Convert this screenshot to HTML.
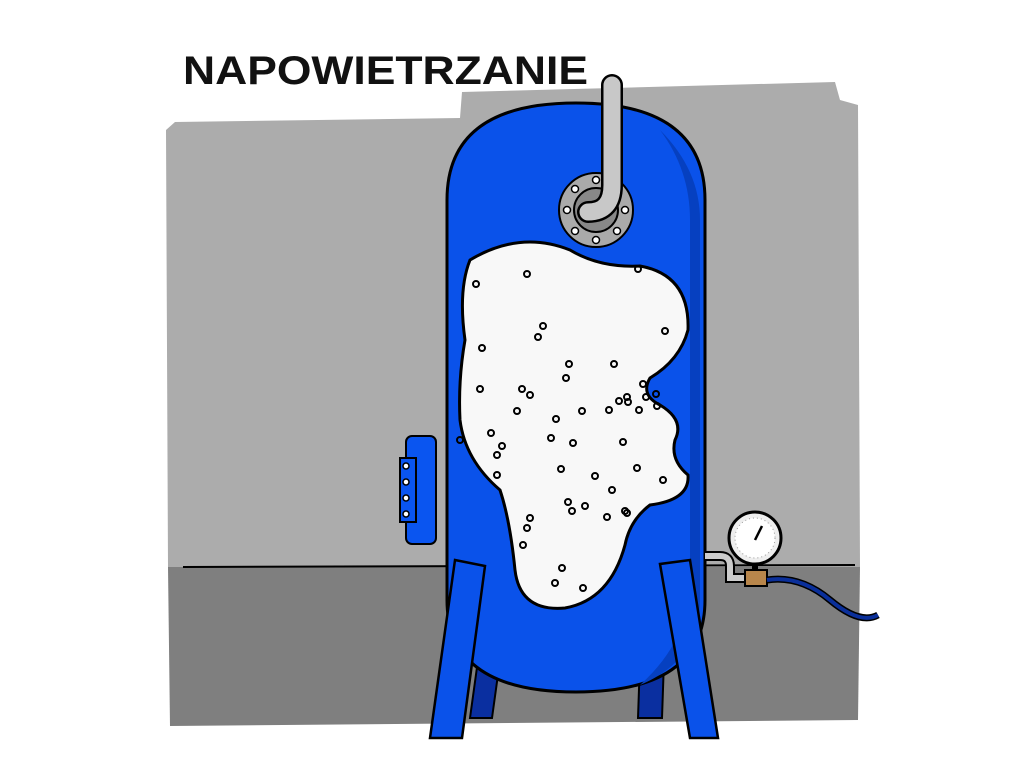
<!DOCTYPE html>
<html><head><meta charset="utf-8"><style>
html,body{margin:0;padding:0;background:#fff;width:1024px;height:768px;overflow:hidden}
</style></head><body>
<svg width="1024" height="768" viewBox="0 0 1024 768">
<path d="M166 130 L175 122 L460 118 L462 92 L835 82 L840 100 L858 105 L860 567 L168 567 Z" fill="#acacac"/>
<path d="M168 567 L860 567 L858 720 L170 726 Z" fill="#7f7f7f"/>
<line x1="183" y1="567" x2="855" y2="565" stroke="#000" stroke-width="2"/>
<text x="183" y="84" font-family="Liberation Sans, sans-serif" font-size="40" font-weight="bold" fill="#111" textLength="405" lengthAdjust="spacingAndGlyphs">NAPOWIETRZANIE</text>
<path d="M478 660 L470 718 L492 718 L500 660 Z" fill="#0a2fa0" stroke="#000" stroke-width="2"/>
<path d="M640 660 L638 718 L662 718 L664 660 Z" fill="#0a2fa0" stroke="#000" stroke-width="2"/>
<rect x="406" y="436" width="30" height="108" rx="6" fill="#0a55f0" stroke="#000" stroke-width="2"/>
<rect x="400" y="458" width="16" height="64" fill="#0a55f0" stroke="#000" stroke-width="2"/>
<g fill="#fff" stroke="#000" stroke-width="1.5">
<circle cx="406" cy="466" r="3"/><circle cx="406" cy="482" r="3"/><circle cx="406" cy="498" r="3"/><circle cx="406" cy="514" r="3"/></g>
<path d="M447 200 Q447 103 576 103 Q705 103 705 200 L705 600 Q705 692 576 692 Q447 692 447 600 Z" fill="#0a52ea" stroke="#000" stroke-width="3"/>
<path d="M660 130 Q700 170 700 220 L700 600 Q700 660 640 685 Q690 640 690 580 L690 220 Q690 170 660 130 Z" fill="#0640c0"/>
<path d="M470 260 Q520 230 570 250 Q600 268 640 266 Q690 275 688 330 Q680 360 650 378 Q640 395 660 405 Q685 420 675 440 Q670 460 688 475 Q690 500 650 505 Q630 520 625 545 Q610 600 565 608 Q520 612 515 570 Q510 520 500 490 Q465 460 460 420 Q458 380 465 340 Q458 290 470 260 Z" fill="#f8f8f8" stroke="#000" stroke-width="3"/>
<g id="bubbles" fill="none" stroke="#000" stroke-width="2"></g>
<circle cx="596" cy="210" r="37" fill="#aaa" stroke="#000" stroke-width="2"/>
<circle cx="596" cy="210" r="22" fill="#888" stroke="#000" stroke-width="2"/>
<g fill="#fff" stroke="#000" stroke-width="1.5">
<circle cx="596" cy="180" r="3.5"/><circle cx="617" cy="189" r="3.5"/><circle cx="625" cy="210" r="3.5"/><circle cx="617" cy="231" r="3.5"/><circle cx="596" cy="240" r="3.5"/><circle cx="575" cy="231" r="3.5"/><circle cx="567" cy="210" r="3.5"/><circle cx="575" cy="189" r="3.5"/></g>
<path d="M612 85 L612 185 Q612 212 588 212" fill="none" stroke="#000" stroke-width="22" stroke-linecap="round"/>
<path d="M612 85 L612 185 Q612 212 588 212" fill="none" stroke="#c8c8c8" stroke-width="17" stroke-linecap="round"/>
<path d="M455 560 L430 738 L462 738 L485 566 Z" fill="#0a52ea" stroke="#000" stroke-width="2.5"/>
<path d="M660 564 L690 738 L718 738 L690 560 Z" fill="#0a52ea" stroke="#000" stroke-width="2.5"/>
<path d="M705 556 L720 556 Q730 556 730 566 L730 578 L750 578" fill="none" stroke="#000" stroke-width="10"/>
<path d="M705 556 L720 556 Q730 556 730 566 L730 578 L750 578" fill="none" stroke="#ccc" stroke-width="6"/>
<rect x="745" y="570" width="22" height="16" fill="#b8864b" stroke="#000" stroke-width="2"/>
<path d="M767 580 Q800 575 830 600 Q860 625 878 615" fill="none" stroke="#000" stroke-width="7"/>
<path d="M767 580 Q800 575 830 600 Q860 625 878 615" fill="none" stroke="#0a2f9a" stroke-width="4"/>
<line x1="755" y1="570" x2="755" y2="555" stroke="#000" stroke-width="6"/>
<circle cx="755" cy="538" r="26" fill="#eee" stroke="#000" stroke-width="3"/>
<circle cx="755" cy="538" r="20" fill="#fff" stroke="#999" stroke-width="1" stroke-dasharray="1 3"/>
<line x1="755" y1="540" x2="762" y2="526" stroke="#000" stroke-width="2.5"/>
<script>
const bubbleX=[476,527,638,665,543,538,482,569,614,480,522,530,566,619,628,643,646,657,517,556,582,609,627,656,460,491,551,573,502,497,561,595,623,637,663,497,568,572,585,530,607,627,527,523,562,555,583,639,625,612];
const bubbleY=[284,274,269,331,326,337,348,364,364,389,389,395,378,401,402,384,397,406,411,419,411,410,397,394,440,433,438,443,446,455,469,476,442,468,480,475,502,511,506,518,517,513,528,545,568,583,588,410,511,490];
const g=document.getElementById('bubbles');
bubbleX.forEach((x,i)=>{
 const c=document.createElementNS('http://www.w3.org/2000/svg','circle');
 c.setAttribute('cx',x);c.setAttribute('cy',bubbleY[i]);c.setAttribute('r',3);
 
 
 g.appendChild(c);
});
</script>
</svg>
</body></html>
